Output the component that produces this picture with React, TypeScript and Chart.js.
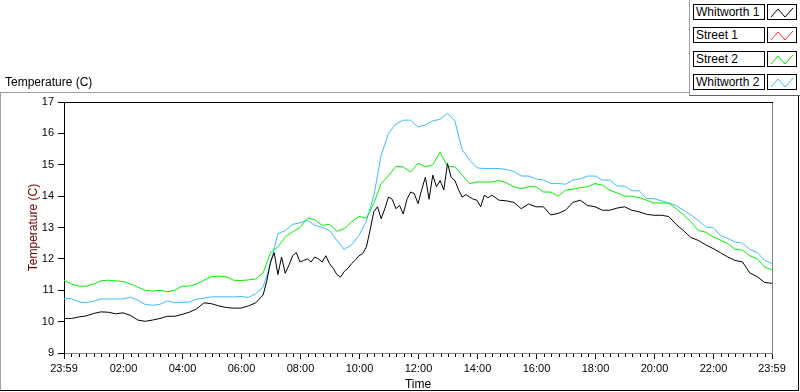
import React, { useEffect, useRef } from 'react';
import { Chart, registerables } from 'chart.js';

Chart.register(...registerables);

// ---- data: hours since 23:59 ----
const sampleStepHours = 0.25; // 15-minute samples
const detailStepHours = 0.125; // 7.5-minute samples (noisy midday part of Whitworth 1)

// Whitworth 1: 0.00 h .. 6.50 h (15 min)
const whitworth1Early = [
  10.1, 10.1, 10.15, 10.18, 10.26, 10.31, 10.3, 10.25, 10.28, 10.2, 10.05, 10.01, 10.05, 10.1,
  10.17, 10.17, 10.23, 10.3, 10.41, 10.6, 10.57, 10.5, 10.45, 10.43, 10.43, 10.5, 10.6,
];
const whitworth1EarlyStart = 0;
// Whitworth 1: 6.75 h .. 14.50 h (7.5 min)
const whitworth1Mid = [
  10.85, 11.3, 11.9, 12.2, 11.5, 12.06, 11.54, 11.8, 12.1, 12.2, 11.9, 11.95, 12.0, 11.9, 12.06, 12.0,
  11.9, 12.1, 11.85, 11.7, 11.5, 11.42, 11.6, 11.7, 11.85, 11.96, 12.1, 12.17, 12.38, 12.91, 13.5, 13.66,
  13.28, 13.6, 13.97, 13.9, 13.6, 13.7, 13.43, 13.9, 14.13, 14.08, 13.76, 14.2, 14.61, 13.9, 14.67, 14.3,
  14.5, 14.2, 15.04, 14.6, 14.5, 14.2, 13.97, 14.05, 13.97, 13.9, 13.87, 13.66, 14.03, 13.95, 14.03,
];
const whitworth1MidStart = 6.75;
// Whitworth 1: 14.75 h .. 24.00 h (15 min)
const whitworth1Late = [
  13.87, 13.85, 13.8, 13.6, 13.75, 13.66, 13.66, 13.4, 13.45, 13.55, 13.8, 13.87, 13.7, 13.66,
  13.55, 13.55, 13.62, 13.66, 13.55, 13.5, 13.42, 13.39, 13.39, 13.35, 13.1, 12.9, 12.68, 12.59,
  12.45, 12.33, 12.2, 12.06, 11.95, 11.9, 11.55, 11.43, 11.25, 11.22,
];
const whitworth1LateStart = 14.75;

const street1: number[] = [];

const street2 = [
  11.32, 11.2, 11.13, 11.13, 11.2, 11.3, 11.32, 11.3, 11.28, 11.2, 11.1, 11.0, 10.97, 11.0, 10.95, 11.0, 11.13, 11.13, 11.2, 11.32, 11.43, 11.45, 11.43, 11.32, 11.31,
  11.33, 11.36, 11.55, 12.2, 12.38, 12.7, 12.86, 13.0, 13.3, 13.25, 13.07, 13.1, 12.88, 12.96, 13.18, 13.35, 13.3, 13.76, 14.4, 14.65, 14.95, 14.93, 14.77, 15.05,
  14.93, 15.0, 15.4, 14.95, 14.93, 14.67, 14.4, 14.45, 14.45, 14.45, 14.5, 14.42, 14.3, 14.24, 14.3, 14.3, 14.13, 14.13, 14.0, 14.19, 14.22, 14.27, 14.3, 14.4,
  14.35, 14.19, 14.1, 14.0, 14.0, 13.95, 13.87, 13.78, 13.78, 13.78, 13.6, 13.4, 13.18, 12.91, 12.85, 12.7, 12.6, 12.49, 12.3, 12.28, 12.1, 12.0, 11.74, 11.65,
];

const whitworth2 = [
  10.73, 10.73, 10.63, 10.6, 10.65, 10.72, 10.72, 10.72, 10.72, 10.78, 10.68, 10.55, 10.52, 10.55, 10.66, 10.6, 10.62, 10.62, 10.72, 10.75, 10.79, 10.79, 10.79, 10.79, 10.8,
  10.77, 10.89, 11.1, 11.85, 12.8, 12.9, 13.1, 13.15, 13.23, 13.07, 13.0, 12.91, 12.59, 12.3, 12.45, 12.75, 13.2, 14.0, 15.3, 16.0, 16.3, 16.42, 16.42, 16.2,
  16.27, 16.4, 16.45, 16.64, 16.4, 15.47, 15.15, 14.9, 14.88, 14.88, 14.88, 14.85, 14.78, 14.64, 14.64, 14.55, 14.51, 14.4, 14.4, 14.38, 14.51, 14.55, 14.64, 14.64,
  14.51, 14.51, 14.32, 14.32, 14.17, 14.17, 13.92, 13.92, 13.85, 13.78, 13.7, 13.55, 13.4, 13.23, 13.02, 13.0, 12.75, 12.65, 12.54, 12.5, 12.3, 12.2, 11.95, 11.85,
];

const seriesNames = ['Whitworth 1', 'Street 1', 'Street 2', 'Whitworth 2'];
const seriesColors = ['#000000', '#ff2a2a', '#00f000', '#3cbcff'];

const xTickValues = [0, 2.0167, 4.0167, 6.0167, 8.0167, 10.0167, 12.0167, 14.0167, 16.0167, 18.0167, 20.0167, 22.0167, 24];
const xTickLabels = ['23:59', '02:00', '04:00', '06:00', '08:00', '10:00', '12:00', '14:00', '16:00', '18:00', '20:00', '22:00', '23:59'];
const yMin = 9;
const yMax = 17;

const FONT = "'Liberation Sans', Arial, sans-serif";

const toPoints = (vals: number[], start: number, step: number) => vals.map((v, k) => ({ x: start + k * step, y: v }));

const framePlugin = {
  id: 'lvFrame',
  afterDraw(chart: any) {
    const { ctx, chartArea: a, scales } = chart;
    const xs = scales.x;
    ctx.save();
    ctx.lineWidth = 1;
    ctx.strokeStyle = '#000';
    ctx.beginPath();
    ctx.moveTo(a.left, a.top + 0.5);
    ctx.lineTo(a.right + 1, a.top + 0.5);
    ctx.stroke();
    ctx.strokeStyle = '#808080';
    ctx.beginPath();
    ctx.moveTo(a.right + 0.5, a.top + 1);
    ctx.lineTo(a.right + 0.5, a.bottom);
    ctx.stroke();
    ctx.strokeStyle = '#000';
    ctx.beginPath();
    for (let i = 0; i < xTickValues.length - 1; i++) {
      const v0 = xTickValues[i];
      const v1 = xTickValues[i + 1];
      for (let k = 1; k < 8; k++) {
        const px = Math.round(xs.getPixelForValue(v0 + ((v1 - v0) * k) / 8)) + 0.5;
        ctx.moveTo(px, a.bottom + 1);
        ctx.lineTo(px, a.bottom + 4);
      }
    }
    ctx.stroke();
    ctx.restore();
  },
};

function Swatch({ color }: { color: string }) {
  return (
    <svg width={28} height={14} style={{ display: 'block' }}>
      <polyline points="3,12 10,4 17,12 25,3" fill="none" stroke={color} strokeWidth={1} />
    </svg>
  );
}

export default function App() {
  const canvasRef = useRef<HTMLCanvasElement | null>(null);

  useEffect(() => {
    document.body.style.margin = '0';
    const canvas = canvasRef.current;
    if (!canvas) return;
    const seriesPoints = [
      [
        ...toPoints(whitworth1Early, whitworth1EarlyStart, sampleStepHours),
        ...toPoints(whitworth1Mid, whitworth1MidStart, detailStepHours),
        ...toPoints(whitworth1Late, whitworth1LateStart, sampleStepHours),
      ],
      toPoints(street1, 0, sampleStepHours),
      toPoints(street2, 0, sampleStepHours),
      toPoints(whitworth2, 0, sampleStepHours),
    ];
    const datasets = seriesPoints.map((pts, i) => ({
      label: seriesNames[i],
      data: pts,
      borderColor: seriesColors[i],
      backgroundColor: seriesColors[i],
      borderWidth: 1,
      pointRadius: 0,
      tension: 0,
      fill: false,
    }));
    const chart = new Chart(canvas, {
      type: 'line',
      data: { datasets },
      plugins: [framePlugin],
      options: {
        animation: false,
        responsive: false,
        maintainAspectRatio: false,
        events: [],
        layout: { padding: { top: 102, right: 28, left: 0, bottom: 0 } },
        plugins: { legend: { display: false }, tooltip: { enabled: false } },
        scales: {
          x: {
            type: 'linear',
            min: 0,
            max: 24,
            afterFit: (s: any) => { s.height = 39; },
            afterBuildTicks: (s: any) => { s.ticks = xTickValues.map((v) => ({ value: v })); },
            ticks: {
              autoSkip: false,
              maxRotation: 0,
              padding: 3,
              color: '#000',
              font: { family: FONT, size: 11 },
              callback: (_v: any, i: number) => xTickLabels[i],
            },
            grid: { display: true, drawOnChartArea: false, drawTicks: true, tickLength: 6, tickColor: '#000', tickWidth: 1 },
            border: { display: true, color: '#808080', width: 1 },
            title: { display: true, text: 'Time', color: '#000', font: { family: FONT, size: 12 }, padding: { top: 0, bottom: 0 } },
          },
          y: {
            type: 'linear',
            min: yMin,
            max: yMax,
            afterFit: (s: any) => { s.width = 64; },
            ticks: { stepSize: 1, padding: 4, color: '#000', font: { family: FONT, size: 11 } },
            grid: { display: true, drawOnChartArea: false, drawTicks: true, tickLength: 6, tickColor: '#000' },
            border: { display: true, color: '#000', width: 1 },
            title: { display: true, text: 'Temperature (C)', color: '#700000', font: { family: FONT, size: 12 }, padding: { top: 26, bottom: 0 } },
          },
        },
      },
    } as any);
    return () => chart.destroy();
  }, []);

  const line = (l: number, t: number, w: number, h: number, c: string) => (
    <div style={{ position: 'absolute', left: l, top: t, width: w, height: h, background: c }} />
  );

  return (
    <div style={{ position: 'relative', width: 800, height: 392, background: '#fff', overflow: 'hidden', fontFamily: FONT }}>
      <canvas ref={canvasRef} width={800} height={392} style={{ position: 'absolute', left: 0, top: 0, width: 800, height: 392 }} />
      {line(0, 92, 689, 1, '#a0a0a0')}
      {line(0, 92, 1, 299, '#a0a0a0')}
      {line(0, 390, 799, 1, '#000')}
      {line(798, 95, 1, 296, '#000')}
      {line(689, 0, 1, 95, '#a0a0a0')}
      {line(689, 95, 111, 1, '#606060')}
      <div style={{ position: 'absolute', left: 5, top: 75, fontSize: 12, color: '#000', whiteSpace: 'nowrap' }}>Temperature (C)</div>
      {seriesNames.map((name, i) => {
        const top = [4, 27, 51, 74][i];
        return (
          <React.Fragment key={name}>
            <div style={{ position: 'absolute', left: 693, top, width: 68, height: 14, border: '1px solid #000', background: '#fff', fontSize: 12, lineHeight: '14px', paddingLeft: 2, boxSizing: 'content-box', whiteSpace: 'nowrap', color: '#000' }}>{name}</div>
            <div style={{ position: 'absolute', left: 767, top, width: 28, height: 14, border: '1px solid #000', background: '#fff' }}>
              <Swatch color={seriesColors[i]} />
            </div>
          </React.Fragment>
        );
      })}
    </div>
  );
}
